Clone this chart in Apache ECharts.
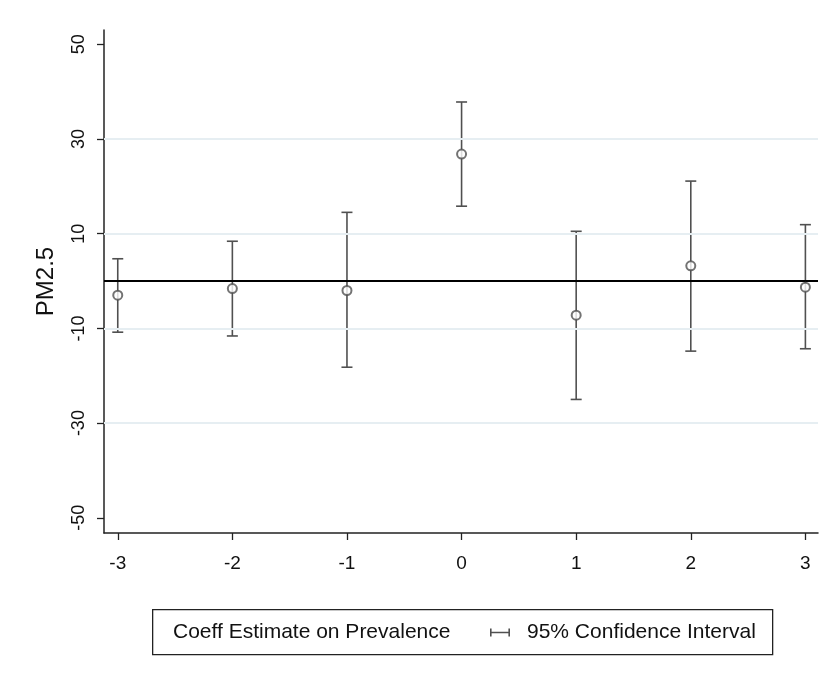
<!DOCTYPE html>
<html>
<head>
<meta charset="utf-8">
<script src="https://cdn.jsdelivr.net/npm/echarts@6/dist/echarts.min.js"></script>
<style>
  html, body { margin: 0; padding: 0; background: #fff; }
  #chart { width: 823px; height: 679px; }
</style>
</head>
<body>
<div id="chart"></div>
<script>
// Event-time periods and coefficient estimates with 95% confidence bounds
const periods = [-3, -2, -1, 0, 1, 2, 3];
const estimates = [-3.0, -1.6, -2.0, 26.8, -7.2, 3.2, -1.3];
const lowerCI = [-10.8, -11.6, -18.2, 15.8, -25.0, -14.8, -14.3];
const upperCI = [4.7, 8.4, 14.5, 37.8, 10.5, 21.1, 11.9];

const xTicks = [-3, -2, -1, 0, 1, 2, 3];
const yTicks = [-50, -30, -10, 10, 30, 50];
const gridLevels = [-30, -10, 10, 30];
const referenceLevel = [0];

const seriesNames = ['Coeff Estimate on Prevalence', '95% Confidence Interval'];
const yTitle = 'PM2.5';

const FONT = 'Liberation Sans, Arial, sans-serif';
const INK = '#505050';

const pointData = periods.map((p, i) => [p, estimates[i]]);
const ciData = periods.map((p, i) => [p, lowerCI[i], upperCI[i]]);

// vertical interval with short caps at both ends
function renderCI(params, api) {
  const x = api.value(0);
  const top = api.coord([x, api.value(2)]);
  const bot = api.coord([x, api.value(1)]);
  const hw = 5.5;
  const style = { stroke: INK, lineWidth: 1.6, fill: null };
  return {
    type: 'group',
    children: [
      { type: 'line', shape: { x1: top[0], y1: top[1], x2: bot[0], y2: bot[1] }, style },
      { type: 'line', shape: { x1: top[0] - hw, y1: top[1], x2: top[0] + hw, y2: top[1] }, style },
      { type: 'line', shape: { x1: bot[0] - hw, y1: bot[1], x2: bot[0] + hw, y2: bot[1] }, style }
    ]
  };
}

const chart = echarts.init(document.getElementById('chart'), null, { renderer: 'canvas' });

const legendText = { fontSize: 21, color: '#111', fontFamily: FONT };

chart.setOption({
  backgroundColor: '#ffffff',
  animation: false,
  textStyle: { fontFamily: FONT },
  grid: { left: 104, right: 5, top: 30, bottom: 146, containLabel: false },
  graphic: [
    {
      type: 'rect',
      left: 152,
      top: 609,
      shape: { width: 620, height: 45 },
      style: { fill: '#fff', stroke: '#222', lineWidth: 1.3 },
      z: -1,
      silent: true
    }
  ],
  xAxis: {
    type: 'value',
    min: -3.12,
    max: 3.11,
    axisLine: { show: true, onZero: false, lineStyle: { color: '#222', width: 1.5 } },
    axisTick: { show: true, customValues: xTicks, length: 7, lineStyle: { color: '#222', width: 1.3 } },
    axisLabel: { customValues: xTicks, color: '#111', fontSize: 19, fontFamily: FONT, margin: 21 },
    splitLine: { show: false }
  },
  yAxis: {
    type: 'value',
    min: -53.2,
    max: 53,
    name: yTitle,
    nameLocation: 'middle',
    nameRotate: 90,
    nameGap: 46,
    nameTextStyle: { fontSize: 24, color: '#111', fontFamily: FONT },
    axisLine: { show: true, onZero: false, lineStyle: { color: '#222', width: 1.5 } },
    axisTick: { show: true, customValues: yTicks, length: 7, lineStyle: { color: '#222', width: 1.3 } },
    axisLabel: { customValues: yTicks, rotate: 90, color: '#111', fontSize: 18, fontFamily: FONT, margin: 16 },
    splitLine: { show: false }
  },
  legend: [
    {
      left: 148,
      top: 622,
      padding: 0,
      itemWidth: 20,
      itemHeight: 8,
      textStyle: legendText,
      data: [{ name: seriesNames[0], icon: 'none' }]
    },
    {
      left: 490,
      top: 622,
      padding: 0,
      itemWidth: 20,
      itemHeight: 8,
      textStyle: Object.assign({ padding: [0, 0, 0, 12] }, legendText),
      data: [{
        name: seriesNames[1],
        icon: 'path://M0,0h1.6v8h-1.6z M1.6,3.3h16.8v1.5h-16.8z M18.4,0h1.6v8h-1.6z',
        itemStyle: { color: INK }
      }]
    }
  ],
  series: [
    {
      name: seriesNames[0],
      type: 'scatter',
      data: pointData,
      symbol: 'emptyCircle',
      symbolSize: 9,
      itemStyle: { color: INK, borderColor: INK, borderWidth: 1.6 },
      z: 5,
      markLine: {
        silent: true,
        symbol: 'none',
        label: { show: false },
        animation: false,
        data: gridLevels.map(v => ({ yAxis: v, lineStyle: { color: '#e6eef2', width: 2, type: 'solid' } }))
          .concat(referenceLevel.map(v => ({ yAxis: v, lineStyle: { color: '#000', width: 2, type: 'solid' } })))
      }
    },
    {
      name: seriesNames[1],
      type: 'custom',
      data: ciData,
      renderItem: renderCI,
      itemStyle: { color: INK },
      encode: { x: 0, y: [1, 2] },
      z: 4
    }
  ]
});
</script>
</body>
</html>
